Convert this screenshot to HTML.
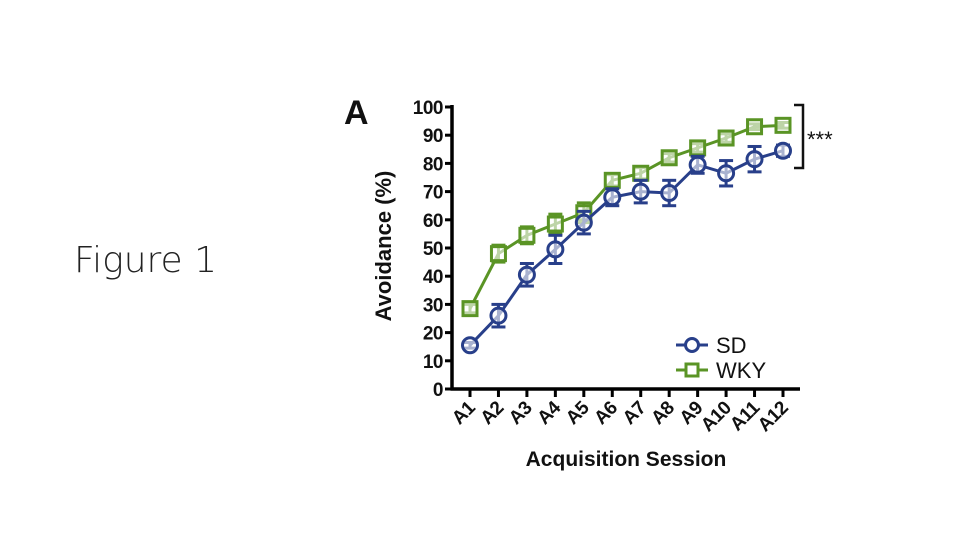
<!DOCTYPE html>
<html><head><meta charset="utf-8"><style>
body{margin:0;background:#fff;width:960px;height:540px;overflow:hidden;font-family:"Liberation Sans",sans-serif}
</style></head><body>
<div style="position:relative;width:960px;height:540px">
<div style="position:absolute;left:74px;top:240px;font-size:36px;font-family:'DejaVu Sans','Liberation Sans',sans-serif;font-weight:300;color:#222">Figure 1</div>
<svg id="chart" width="960" height="540" style="position:absolute;left:0;top:0"></svg>
</div>
<script>
const categories=["A1","A2","A3","A4","A5","A6","A7","A8","A9","A10","A11","A12"];
const sdValues=[15.5,26,40.5,49.5,59,68,70,69.5,79.5,76.5,81.5,84.5];
const sdErrors=[1,4,4,5,4,3,4,4.5,3,4.5,4.5,2];
const wkyValues=[28.5,48,54.5,58.5,62.5,74,76.5,82,85.5,89,93,93.5];
const wkyErrors=[1.5,3,3,3.5,3.5,2,2,1.5,1.5,1.5,1,1];
const yTicks=[0,10,20,30,40,50,60,70,80,90,100];
const NS="http://www.w3.org/2000/svg";
const svg=document.getElementById('chart');
const x0=452,x1=800,yTop=107,yBot=389;
const xs=i=>470+i*(783-470)/(categories.length-1);
const ys=v=>yBot-(v/100)*(yBot-yTop);
function mk(tag,attrs,name,parent){const e=document.createElementNS(NS,tag);for(const k in attrs)e.setAttribute(k,attrs[k]);


(parent||svg).appendChild(e);return e;}
mk('line',{x1:x0,y1:yTop-2,x2:x0,y2:yBot+1.5,stroke:'#000','stroke-width':3.5},'y-axis');
mk('line',{x1:x0-1.5,y1:yBot,x2:x1,y2:yBot,stroke:'#000','stroke-width':3.5},'x-axis');
yTicks.forEach(t=>{
 mk('line',{x1:x0-7,y1:ys(t),x2:x0,y2:ys(t),stroke:'#000','stroke-width':3},'y-tick');
 const tx=mk('text',{x:x0-9,y:ys(t)+7,'text-anchor':'end','font-size':19,'font-weight':'bold',fill:'#111','letter-spacing':-0.5},'y-tick-label');tx.textContent=t;
});
categories.forEach((c,i)=>{
 mk('line',{x1:xs(i),y1:yBot,x2:xs(i),y2:yBot+8,stroke:'#000','stroke-width':3},'x-tick');
 const tx=mk('text',{x:xs(i)+6,y:yBot+20,'text-anchor':'end','font-size':19,'font-weight':'bold',fill:'#111','letter-spacing':-0.5,transform:`rotate(-45 ${xs(i)+6} ${yBot+20})`},'x-tick-label');tx.textContent=c;
});
let t=mk('text',{x:626,y:466,'text-anchor':'middle','font-size':21,'font-weight':'bold',fill:'#111'},'x-axis-title');t.textContent='Acquisition Session';
t=mk('text',{x:0,y:0,'text-anchor':'middle','font-size':22,'font-weight':'bold',fill:'#111',transform:'translate(391 246) rotate(-90)'},'y-axis-title');t.textContent='Avoidance (%)';
t=mk('text',{x:344,y:124,'font-size':34,'font-weight':'bold',fill:'#111'},'panel-label');t.textContent='A';
function series(vals,errs,color,shape,name){
 const g=mk('g',{},name+'-series');
 mk('polyline',{points:vals.map((v,i)=>xs(i)+','+ys(v)).join(' '),fill:'none',stroke:color,'stroke-width':3},name+'-line',g);
 vals.forEach((v,i)=>{
  const cx=xs(i),cy=ys(v),e=errs[i];
  mk('line',{x1:cx,y1:ys(v+e),x2:cx,y2:ys(v-e),stroke:color,'stroke-width':3},name+'-errorbar',g);
  mk('line',{x1:cx-7,y1:ys(v+e),x2:cx+7,y2:ys(v+e),stroke:color,'stroke-width':3},name+'-errorcap',g);
  mk('line',{x1:cx-7,y1:ys(v-e),x2:cx+7,y2:ys(v-e),stroke:color,'stroke-width':3},name+'-errorcap',g);
  if(shape==='c')mk('circle',{cx:cx,cy:cy,r:7.5,fill:'#fff','fill-opacity':0.6,stroke:color,'stroke-width':3},name+'-point',g);
  else mk('rect',{x:cx-7,y:cy-7,width:14,height:14,fill:'#fff','fill-opacity':0.6,stroke:color,'stroke-width':3},name+'-point',g);
 });
}
series(wkyValues,wkyErrors,'#5a9425','s','wky');
series(sdValues,sdErrors,'#283f8a','c','sd');
mk('polyline',{points:'794,105 803,105 803,168 794,168',fill:'none',stroke:'#111','stroke-width':2.5},'significance-bracket');
t=mk('text',{x:807,y:147,'font-size':22,fill:'#111'},'significance-stars');t.textContent='***';
mk('line',{x1:676,y1:345,x2:708,y2:345,stroke:'#283f8a','stroke-width':3},'legend-sd-line');
mk('circle',{cx:692,cy:345,r:6.5,fill:'#fff',stroke:'#283f8a','stroke-width':3},'legend-sd-marker');
t=mk('text',{x:716,y:353,'font-size':22,fill:'#111'},'legend-sd-label');t.textContent='SD';
mk('line',{x1:676,y1:370,x2:708,y2:370,stroke:'#5a9425','stroke-width':3},'legend-wky-line');
mk('rect',{x:686,y:364,width:12,height:12,fill:'#fff',stroke:'#5a9425','stroke-width':3},'legend-wky-marker');
t=mk('text',{x:716,y:378,'font-size':22,fill:'#111'},'legend-wky-label');t.textContent='WKY';
</script>
</body></html>
